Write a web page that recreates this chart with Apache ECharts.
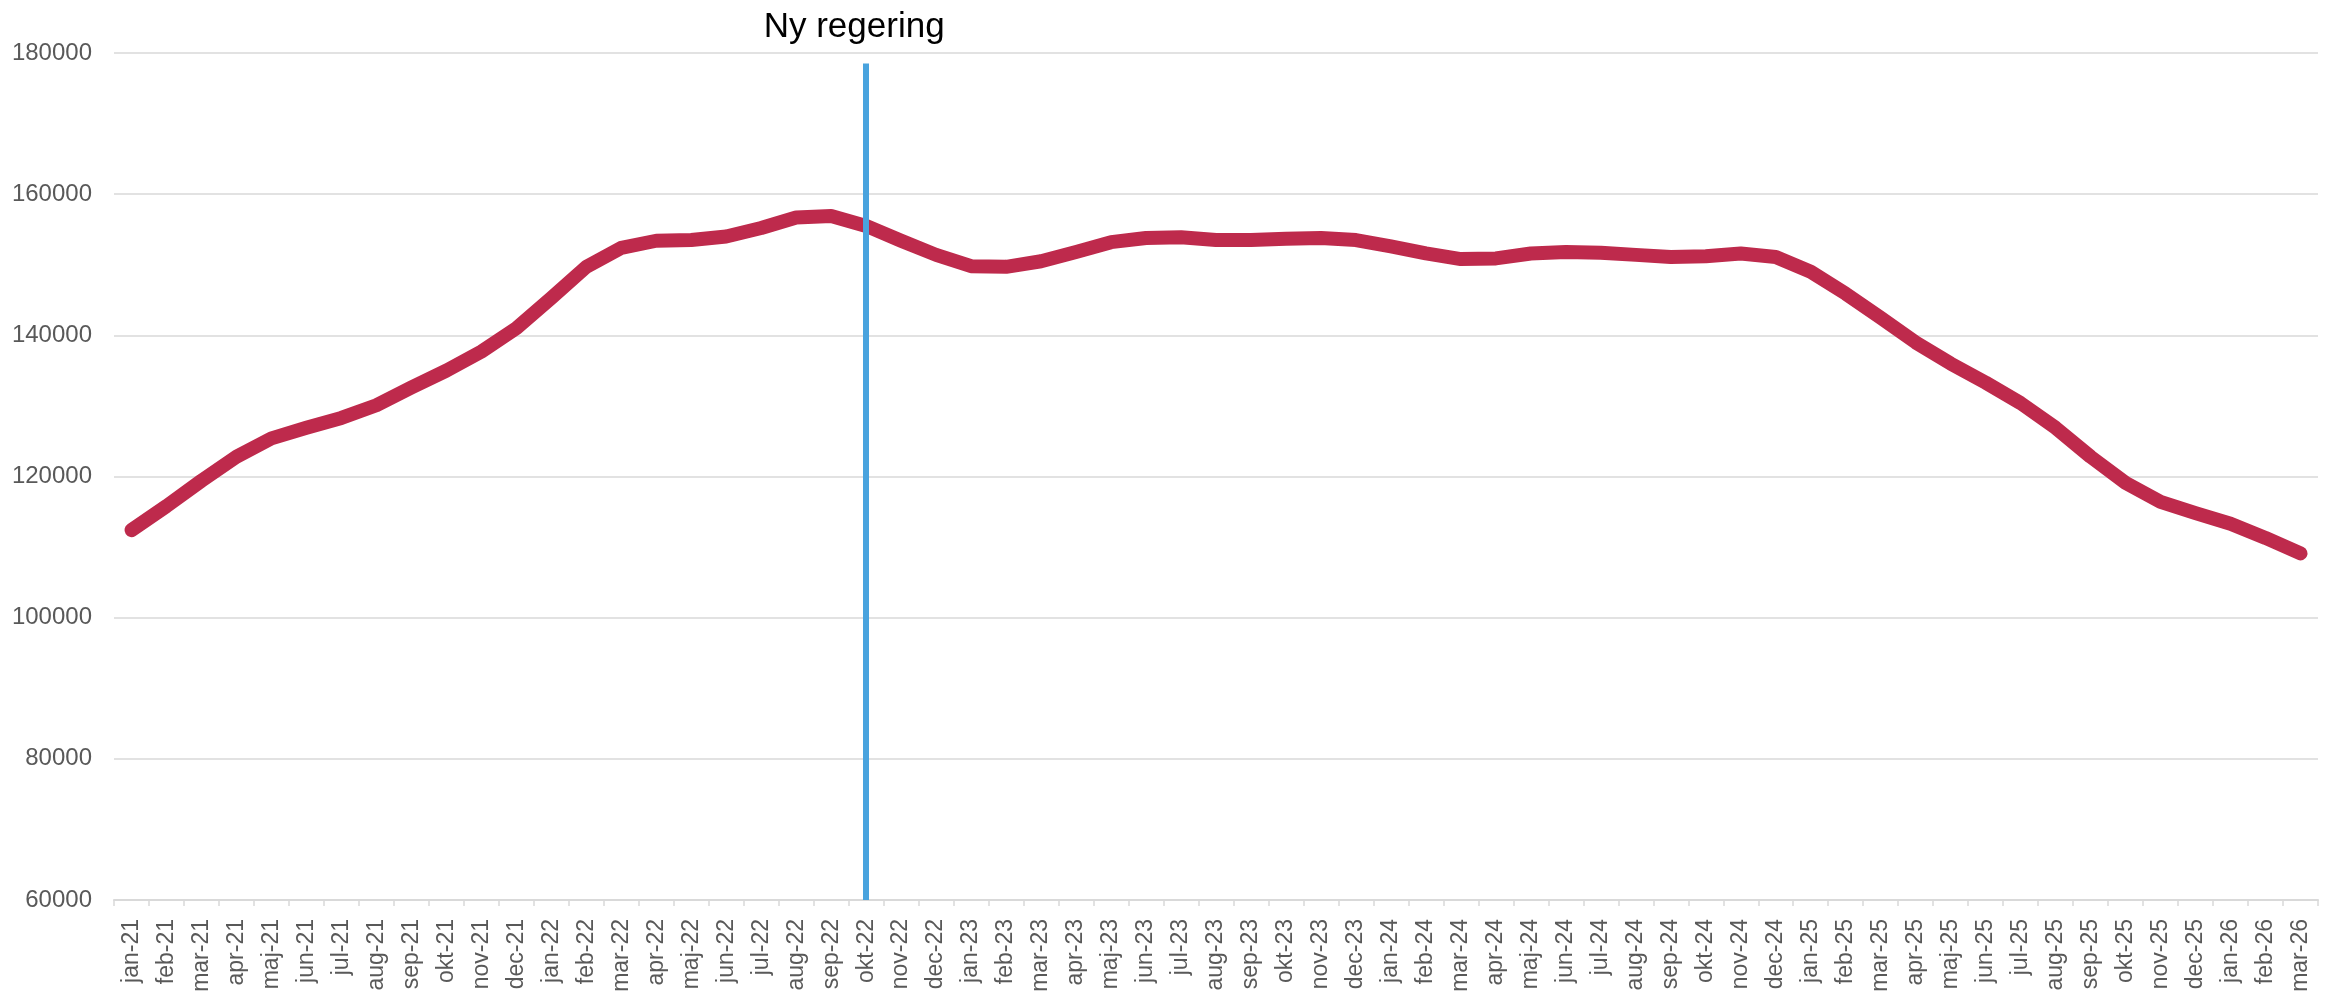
<!DOCTYPE html>
<html>
<head>
<meta charset="utf-8">
<script src="https://cdn.jsdelivr.net/npm/echarts@6/dist/echarts.min.js"></script>
<style>
html,body{margin:0;padding:0;background:#fff;}
#chart{width:2331px;height:995px;}
</style>
</head>
<body>
<div id="chart"></div>
<script>
const categories = [
  'jan-21','feb-21','mar-21','apr-21','maj-21','jun-21','jul-21','aug-21','sep-21','okt-21','nov-21','dec-21',
  'jan-22','feb-22','mar-22','apr-22','maj-22','jun-22','jul-22','aug-22','sep-22','okt-22','nov-22','dec-22',
  'jan-23','feb-23','mar-23','apr-23','maj-23','jun-23','jul-23','aug-23','sep-23','okt-23','nov-23','dec-23',
  'jan-24','feb-24','mar-24','apr-24','maj-24','jun-24','jul-24','aug-24','sep-24','okt-24','nov-24','dec-24',
  'jan-25','feb-25','mar-25','apr-25','maj-25','jun-25','jul-25','aug-25','sep-25','okt-25','nov-25','dec-25',
  'jan-26','feb-26','mar-26'
];
const values = [
  112400, 115800, 119400, 122800, 125400, 126900, 128300, 130100, 132600, 135000, 137700, 141000,
  145300, 149700, 152400, 153400, 153500, 154000, 155200, 156700, 156900, 155500, 153400, 151400,
  149800, 149700, 150500, 151800, 153200, 153800, 153900, 153500, 153500, 153700, 153800, 153500,
  152600, 151600, 150800, 150900, 151600, 151800, 151700, 151400, 151100, 151200, 151600, 151100,
  149000, 145900, 142500, 139000, 136000, 133300, 130400, 126900, 122800, 119100, 116400, 114800,
  113300, 111300, 109100
];
const yTicks = { min: 60000, max: 180000, interval: 20000 };
const eventCategory = 'okt-22';
const eventLabel = 'Ny regering';
const eventTop = 178500;

const chart = echarts.init(document.getElementById('chart'));
chart.setOption({
  backgroundColor: '#ffffff',
  animation: false,
  grid: { left: 114, right: 13, top: 53, bottom: 95, outerBoundsMode: 'none' },
  xAxis: {
    type: 'category',
    data: categories,
    boundaryGap: true,
    axisLine: { show: true, lineStyle: { color: '#d9d9d9', width: 2 } },
    axisTick: { show: true, length: 6, lineStyle: { color: '#d9d9d9', width: 1.5 } },
    axisLabel: { interval: 0, rotate: 90, margin: 19, color: '#595959', fontSize: 23, fontFamily: 'Liberation Sans, Arial, sans-serif' },
    splitLine: { show: false }
  },
  yAxis: {
    type: 'value',
    min: yTicks.min, max: yTicks.max, interval: yTicks.interval,
    axisLine: { show: false },
    axisTick: { show: false },
    axisLabel: { margin: 22, color: '#595959', fontSize: 24, fontFamily: 'Liberation Sans, Arial, sans-serif', formatter: function (v) { return String(v); } },
    splitLine: { lineStyle: { color: '#d9d9d9', width: 1.5 } }
  },
  series: [{
    type: 'line',
    data: values,
    symbol: 'none',
    lineStyle: { color: '#be2a4c', width: 14, cap: 'round', join: 'round' },
    z: 3,
    markLine: {
      silent: true,
      symbol: ['none', 'none'],
      lineStyle: { color: '#49a3de', width: 6, type: 'solid' },
      label: {
        show: true,
        position: 'end',
        distance: 19,
        formatter: eventLabel,
        color: '#000000',
        fontSize: 35,
        fontFamily: 'Liberation Sans, Arial, sans-serif',
        padding: [0, 24, 0, 0]
      },
      data: [[
        { coord: [eventCategory, yTicks.min] },
        { coord: [eventCategory, eventTop] }
      ]],
      z: 5
    }
  }]
});
</script>
</body>
</html>
